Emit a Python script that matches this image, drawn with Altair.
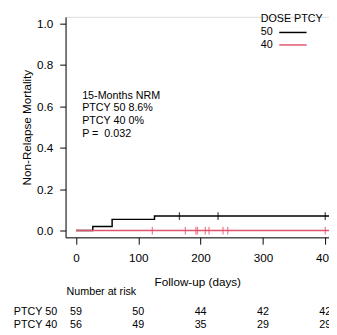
import altair as alt
import pandas as pd

# ---- data ----
groups = ["50", "40"]
colors = ["#000000", "#DF536B"]

black_t = [0, 27, 58, 126, 460]
black_y = [0.0, 0.02, 0.054, 0.07, 0.07]
red_t = [0, 460]
red_y = [0.0, 0.0]

black_cens_t = [166, 228, 400]
black_cens_y = [0.07, 0.07, 0.07]
red_cens_t = [122.6, 175.5, 192.5, 195, 207.5, 213.5, 236, 243.5, 400]
red_cens_y = [0.0] * 9

risk_days = [0, 100, 200, 300, 400]
risk_50 = [59, 50, 44, 42, 42]
risk_40 = [56, 49, 35, 29, 29]
risk_rows = ["PTCY 50", "PTCY 40"]

annot_lines = ["15-Months NRM", "PTCY 50 8.6%", "PTCY 40 0%", "P =\u00a0 0.032"]
legend_title = "DOSE PTCY"

FONT = "Liberation Sans"

black_df = pd.DataFrame({"t": black_t, "y": black_y, "g": ["50"] * len(black_t)})
red_df = pd.DataFrame({"t": red_t, "y": red_y, "g": ["40"] * len(red_t)})
cens = pd.DataFrame(
    {"t": black_cens_t + red_cens_t,
     "y": black_cens_y + red_cens_y,
     "g": ["50"] * len(black_cens_t) + ["40"] * len(red_cens_t)}
)
risk = pd.DataFrame(
    {"t": risk_days * 2,
     "n": risk_50 + risk_40,
     "row": [0] * len(risk_days) + [1] * len(risk_days)}
)
rowlab = pd.DataFrame({"lab": risk_rows, "row": [0, 1]})
annot = pd.DataFrame({"txt": annot_lines, "i": list(range(len(annot_lines)))})
leg = pd.DataFrame({"g": groups, "i": [0, 1]})

xscale = alt.Scale(domain=[-16.7, 406], nice=False, zero=False)
yscale = alt.Scale(domain=[-0.033, 1.033], nice=False, zero=False)
cscale = alt.Scale(domain=groups, range=colors)

xaxis = alt.Axis(values=risk_days, title="Follow-up (days)", grid=False,
                 tickSize=7, labelPadding=9, titlePadding=13,
                 domainColor="black", tickColor="black", labelColor="black",
                 titleColor="black", labelFont=FONT, titleFont=FONT,
                 labelFontSize=12, titleFontSize=12, titleFontWeight="normal",
                 labelFlush=False, labelOverlap=False)
yaxis = alt.Axis(values=[0, 0.2, 0.4, 0.6, 0.8, 1.0], format=".1f",
                 title="Non-Relapse Mortality", grid=False,
                 tickSize=6, labelPadding=7,
                 titleX=-40, titleY=113, titleAngle=270,
                 titleBaseline="middle", titleAlign="center",
                 domainColor="black", tickColor="black", labelColor="black",
                 titleColor="black", labelFont=FONT, titleFont=FONT,
                 labelFontSize=12, titleFontSize=12, titleFontWeight="normal",
                 labelFlush=False)

X = alt.X("t:Q", scale=xscale, axis=xaxis)
Y = alt.Y("y:Q", scale=yscale, axis=yaxis)
C = alt.Color("g:N", scale=cscale, legend=None)

black_line = alt.Chart(black_df).mark_line(interpolate="step-after", strokeWidth=1.5, clip=True).encode(
    x=X, y=Y, color=C)
red_line = alt.Chart(red_df).mark_line(interpolate="step-after", strokeWidth=1.5, clip=True).encode(
    x=X, y=Y, color=C)

ticks = alt.Chart(cens).mark_tick(orient="vertical", size=8, thickness=1.3, clip=True).encode(
    x=X, y=Y, color=C)

annot_txt = alt.Chart(annot).mark_text(
    align="left", baseline="middle", font=FONT, fontSize=11, color="black"
).transform_calculate(py="81 + datum.i * 12.9").encode(
    x=alt.value(17),
    y=alt.Y("py:Q", scale=None),
    text="txt:N",
)

leg_title = alt.Chart(pd.DataFrame({"t": [legend_title]})).mark_text(
    align="left", baseline="middle", font=FONT, fontSize=11, color="black"
).encode(x=alt.value(200), y=alt.value(2), text="t:N")

leg_lab = alt.Chart(leg).mark_text(
    align="left", baseline="middle", font=FONT, fontSize=11, color="black"
).transform_calculate(py="15.3 + datum.i * 13.5").encode(
    x=alt.value(200), y=alt.Y("py:Q", scale=None), text="g:N"
)

leg_line = alt.Chart(leg).mark_rule(strokeWidth=1.5).transform_calculate(
    py="16 + datum.i * 12.8"
).encode(
    x=alt.value(219), x2=alt.value(247),
    y=alt.Y("py:Q", scale=None),
    color=C,
)

risk_head = alt.Chart(pd.DataFrame({"t": ["Number at risk"]})).mark_text(
    align="left", baseline="middle", font=FONT, fontSize=11, color="black"
).encode(x=alt.value(1), y=alt.value(282), text="t:N")

risk_lab = alt.Chart(rowlab).mark_text(
    align="left", baseline="middle", font=FONT, fontSize=11, color="black"
).transform_calculate(py="303 + datum.row * 12.5").encode(
    x=alt.value(-53), y=alt.Y("py:Q", scale=None), text="lab:N"
)

risk_num = alt.Chart(risk).mark_text(
    align="center", baseline="middle", font=FONT, fontSize=11, color="black"
).transform_calculate(py="303 + datum.row * 12.5").encode(
    x=X,
    y=alt.Y("py:Q", scale=None),
    text="n:Q",
)

chart = alt.layer(
    black_line, red_line, ticks, annot_txt, leg_title, leg_lab, leg_line,
    risk_head, risk_lab, risk_num
).properties(
    width=270, height=226,
    autosize=alt.AutoSizeParams(type="none"),
    padding={"left": 59, "top": 5, "right": 0, "bottom": 96},
).configure_view(stroke=None).configure(background="white")

chart.save("out.html", embed_options={"renderer": "svg", "actions": False})
